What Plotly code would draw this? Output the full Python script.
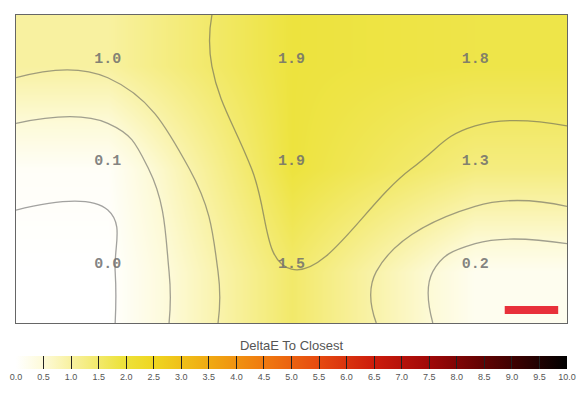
import numpy as np
import plotly.graph_objects as go

# --- data (rows listed top to bottom, columns left to right) ---
col_labels = ["c1", "c2", "c3"]
row_labels = ["r1", "r2", "r3"]
row_top = [1.0, 1.9, 1.8]
row_mid = [0.1, 1.9, 1.3]
row_bot = [0.0, 1.5, 0.2]
contour_levels = [0.06, 0.5, 0.9, 1.51]
cbar_ticks = [i * 0.5 for i in range(21)]
cbar_title = "DeltaE To Closest"

z = np.array([row_top, row_mid, row_bot])
xi = np.arange(len(col_labels))
yi = np.arange(len(row_labels))

colorscale = [
    [0.00, "#ffffff"],
    [0.05, "#fdfad8"],
    [0.10, "#f8f1a0"],
    [0.15, "#f2e96a"],
    [0.19, "#ede33e"],
    [0.25, "#efd620"],
    [0.35, "#f0aa12"],
    [0.45, "#f07a10"],
    [0.55, "#e64a10"],
    [0.65, "#cc1c0c"],
    [0.75, "#a00808"],
    [0.85, "#600202"],
    [1.00, "#000000"],
]

fig = go.Figure()
fig.add_trace(go.Heatmap(
    x=xi, y=yi, z=z, zmin=0, zmax=10, zsmooth="best",
    colorscale=colorscale, hoverinfo="skip",
    colorbar=dict(
        orientation="h", x=0.5, xanchor="center", y=-0.06, yanchor="top",
        lenmode="pixels", len=551, thickness=13,
        outlinewidth=0, xpad=0, ypad=0,
        tickmode="array", tickvals=cbar_ticks,
        ticktext=[f"{t:.1f}" for t in cbar_ticks],
        ticks="inside", ticklen=13, tickcolor="#222", tickwidth=1,
        tickfont=dict(family="Arial, Liberation Sans, sans-serif", size=9, color="#555"),
        title=dict(text=cbar_title, side="top",
                   font=dict(family="Arial, Liberation Sans, sans-serif", size=13, color="#555")),
    ),
))

# contour lines on the grid, edge values held out to the plot border
xc = np.concatenate([[xi[0] - 0.5], xi, [xi[-1] + 0.5]])
yc = np.concatenate([[yi[0] - 0.5], yi, [yi[-1] + 0.5]])
zc = np.pad(z, 1, mode="edge")
for lv in contour_levels:
    fig.add_trace(go.Contour(
        x=xc, y=yc, z=zc, showscale=False, hoverinfo="skip",
        contours=dict(start=lv, end=lv, size=1, coloring="none"),
        line=dict(color="rgba(85,85,85,0.55)", width=1.3, smoothing=1.3),
    ))

# value labels
tx, ty, tt = [], [], []
for r in range(len(row_labels)):
    for c in range(len(col_labels)):
        tx.append(xi[c]); ty.append(yi[r]); tt.append(f"{z[r, c]:.1f}")
fig.add_trace(go.Scatter(
    x=tx, y=ty, text=tt, mode="text", textposition="top center", hoverinfo="skip",
    textfont=dict(family="Liberation Mono, Courier New, monospace", size=15,
                  color="rgba(110,110,110,0.85)", weight="bold"),
))

fig.add_shape(type="rect", xref="paper", yref="paper",
              x0=0.887, x1=0.984, y0=0.029, y1=0.055,
              fillcolor="#e8303a", line=dict(width=0))

fig.update_layout(
    width=580, height=394, showlegend=False,
    margin=dict(l=16, r=13, t=15, b=71, autoexpand=False),
    paper_bgcolor="white", plot_bgcolor="white",
    xaxis=dict(range=[-0.5, 2.5], tickvals=[0.5, 1.5], showticklabels=False, ticks="",
               showgrid=True, gridcolor="rgba(180,180,180,0.7)", gridwidth=1, zeroline=False,
               showline=True, linecolor="#666", linewidth=1, mirror=True),
    yaxis=dict(range=[2.5, -0.5], tickvals=[0.5, 1.5], showticklabels=False, ticks="",
               showgrid=True, gridcolor="rgba(180,180,180,0.7)", gridwidth=1, zeroline=False,
               showline=True, linecolor="#666", linewidth=1, mirror=True),
)

fig.write_html("out.html")
